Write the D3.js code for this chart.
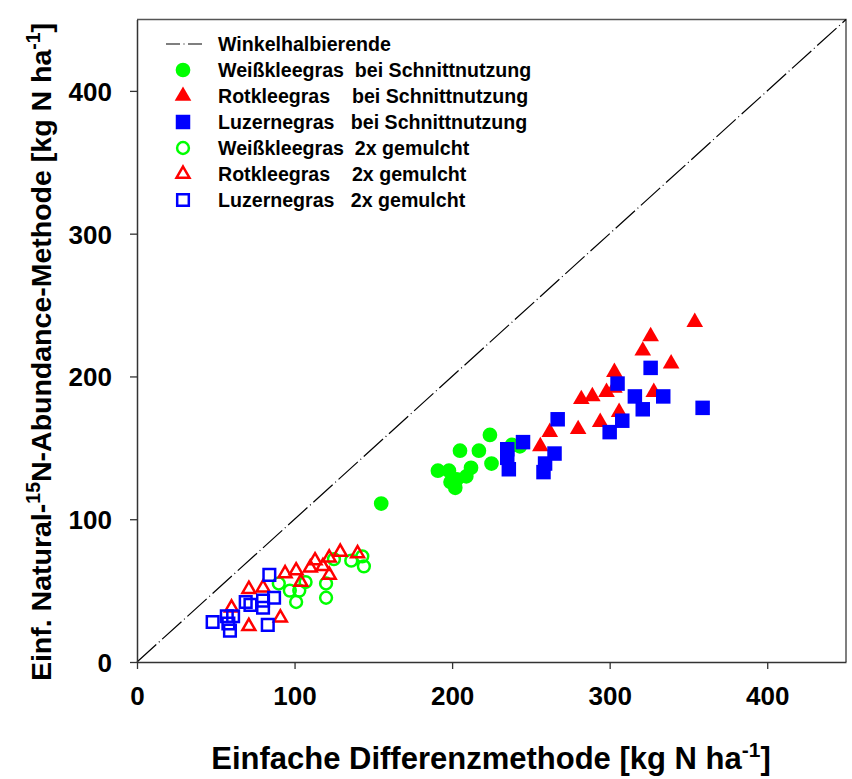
<!DOCTYPE html>
<html>
<head>
<meta charset="utf-8">
<script src="https://cdn.jsdelivr.net/npm/d3@7"></script>
<style>
  html, body { margin: 0; padding: 0; background: #fff; }
  svg { display: block; }
  text { font-family: "Liberation Sans", Arial, sans-serif; font-weight: bold; fill: #000; }
</style>
</head>
<body>
<svg id="chart" width="852" height="779"></svg>
<script>
// Fixation values [kg N ha-1]: [Einfache Differenzmethode, Natural-15N-Abundance]
const weissSchnitt = [[155,111],[224,159],[205,148],[217,148],[225,139],[191,134],[198,134],[199,126],
  [202,122],[212,136],[209,130],[203,128],[238,152],[243,151]];
const rotSchnitt = [[354,238],[326,228],[321,218],[339,209],[303,203],[303,192],[298,189],[289,186],
  [282,184],[328,189],[306,175],[294,168],[280,163],[262,161],[256,151]];
const luzSchnitt = [[326,206],[305,195],[316,186],[334,186],[321,177],[359,178],[308,169],[300,161],
  [267,170],[245,154],[235,149],[235,143],[236,135],[265,146],[259,139],[258,133]];
const weissMulch = [[143,74],[144,67],[136,71],[125,72],[120,45],[120,55],[101,42],[97,50],
  [103,50],[107,56],[90,55]];
const rotMulch = [[71,51],[80,52],[71,25],[91,31],[94,62],[101,64],[104,56],[113,71],[110,66],
  [118,67],[122,73],[122,61],[129,77],[140,76],[60,38]];
const luzMulch = [[84,61],[87,45],[80,43],[69,42],[72,40],[80,38],[48,28],[57,32],[61,32],
  [59,22],[83,26],[58,27]];

const xTicks = [0, 100, 200, 300, 400];
const yTicks = [0, 100, 200, 300, 400];
const axisMax = 450;

const legendLabels = [
  "Winkelhalbierende",
  "Weißkleegras  bei Schnittnutzung",
  "Rotkleegras    bei Schnittnutzung",
  "Luzernegras   bei Schnittnutzung",
  "Weißkleegras  2x gemulcht",
  "Rotkleegras    2x gemulcht",
  "Luzernegras   2x gemulcht"
];

const GREEN = "#00ff00", RED = "#ff0000", BLUE = "#0000ff";

const series = [
  { data: weissSchnitt, shape: d3.symbolCircle,   color: GREEN, filled: true },
  { data: rotSchnitt,   shape: d3.symbolTriangle, color: RED,   filled: true },
  { data: luzSchnitt,   shape: d3.symbolSquare,   color: BLUE,  filled: true },
  { data: weissMulch,   shape: d3.symbolCircle,   color: GREEN, filled: false },
  { data: rotMulch,     shape: d3.symbolTriangle, color: RED,   filled: false },
  { data: luzMulch,     shape: d3.symbolSquare,   color: BLUE,  filled: false }
];

// symbol areas chosen per shape and fill style
function symbolArea(shape, filled) {
  if (shape === d3.symbolCircle) return filled ? 170 : 110;
  if (shape === d3.symbolSquare) return filled ? 210 : 135;
  return filled ? 120 : 72;
}

const svg = d3.select("#chart");
const plotL = 137, plotR = 846, plotT = 19.5, plotB = 662;

const x = d3.scaleLinear().domain([0, axisMax]).range([plotL, plotR]);
const y = d3.scaleLinear().domain([0, axisMax]).range([plotB, plotT]);

// frame (top and right)
svg.append("path")
  .attr("d", `M${plotL},${plotT}H${plotR}V${plotB}`)
  .attr("fill", "none").attr("stroke", "#555").attr("stroke-width", 1.5);

// 1:1 line
const dashPattern = "26,3.5,1,3.5";
svg.append("line")
  .attr("x1", x(0)).attr("y1", y(0)).attr("x2", x(axisMax)).attr("y2", y(axisMax))
  .attr("stroke", "#000").attr("stroke-width", 1.2)
  .attr("stroke-dasharray", dashPattern);

// axes
const xAxis = svg.append("g")
  .attr("transform", `translate(0,${plotB})`)
  .call(d3.axisBottom(x).tickValues(xTicks).tickSize(7).tickSizeOuter(0).tickPadding(18));
const yAxis = svg.append("g")
  .attr("transform", `translate(${plotL},0)`)
  .call(d3.axisLeft(y).tickValues(yTicks).tickSize(7).tickSizeOuter(0).tickPadding(18));

[xAxis, yAxis].forEach(g => {
  g.selectAll("path.domain").attr("stroke", "#333").attr("stroke-width", 1.5);
  g.selectAll(".tick line").attr("stroke", "#333").attr("stroke-width", 1.3);
  g.selectAll(".tick text")
    .style("font-family", '"Liberation Sans", Arial, sans-serif')
    .style("font-weight", "bold").style("font-size", "26px").attr("fill", "#000");
});
yAxis.selectAll(".tick text").attr("dy", "0.36em");

// points
series.forEach(s => {
  const sym = d3.symbol().type(s.shape).size(symbolArea(s.shape, s.filled));
  svg.append("g").selectAll("path")
    .data(s.data)
    .join("path")
    .attr("d", sym)
    .attr("transform", d => `translate(${x(d[0])},${y(d[1])})`)
    .attr("fill", s.filled ? s.color : "none")
    .attr("stroke", s.filled ? "none" : s.color)
    .attr("stroke-width", s.filled ? 0 : 2.5);
});

// legend
const legX = 183, legTextX = 218, legY0 = 44, legStep = 26;
const legend = svg.append("g");
legend.append("line")
  .attr("x1", 166).attr("x2", 202).attr("y1", legY0).attr("y2", legY0)
  .attr("stroke", "#000").attr("stroke-width", 1.2)
  .attr("stroke-dasharray", dashPattern).attr("stroke-dashoffset", 12);
series.forEach((s, i) => {
  const sym = d3.symbol().type(s.shape).size(symbolArea(s.shape, s.filled));
  legend.append("path")
    .attr("d", sym)
    .attr("transform", `translate(${legX},${legY0 + legStep * (i + 1)})`)
    .attr("fill", s.filled ? s.color : "none")
    .attr("stroke", s.filled ? "none" : s.color)
    .attr("stroke-width", s.filled ? 0 : 2.5);
});
legend.selectAll("text")
  .data(legendLabels)
  .join("text")
  .attr("x", legTextX)
  .attr("y", (d, i) => legY0 + legStep * i)
  .attr("dy", "0.36em")
  .style("font-size", "19.6px")
  .style("white-space", "pre")
  .text(d => d);

// axis titles
const xTitle = svg.append("text")
  .attr("x", 491).attr("y", 769)
  .attr("text-anchor", "middle")
  .style("font-size", "31px");
xTitle.append("tspan").text("Einfache Differenzmethode [kg N ha");
xTitle.append("tspan").attr("dy", -12).style("font-size", "21px").text("-1");
xTitle.append("tspan").attr("dy", 12).text("]");

const yTitle = svg.append("text")
  .attr("transform", `translate(51,352) rotate(-90)`)
  .attr("text-anchor", "middle")
  .style("font-size", "28.5px");
yTitle.append("tspan").text("Einf. Natural-");
yTitle.append("tspan").attr("dy", -11).style("font-size", "19.5px").text("15");
yTitle.append("tspan").attr("dy", 11).text("N-Abundance-Methode [kg N ha");
yTitle.append("tspan").attr("dy", -11).style("font-size", "19.5px").text("-1");
yTitle.append("tspan").attr("dy", 11).text("]");
</script>
</body>
</html>
